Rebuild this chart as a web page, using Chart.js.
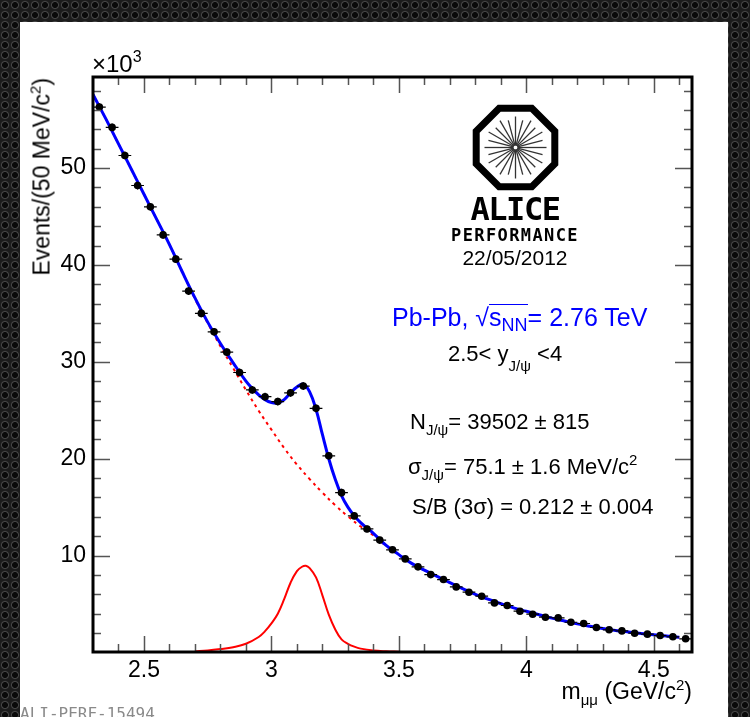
<!DOCTYPE html>
<html>
<head>
<meta charset="utf-8">
<script src="https://cdn.jsdelivr.net/npm/chart.js@4.4.1/dist/chart.umd.min.js"></script>
<style>
  html, body { margin: 0; padding: 0; }
  body {
    width: 750px; height: 717px; position: relative; overflow: hidden;
    font-family: "Liberation Sans", Arial, sans-serif;
    background-color: #1c1c1c;
    background-image: radial-gradient(circle, #0a0a0a 0 2.6px, #4a4a4a 3.4px, #2a2a2a 4.2px, transparent 4.6px);
    background-size: 10px 10px;
  }
  #panel { position: absolute; left: 20px; top: 22px; width: 708px; height: 695px; background: #fff; }
  #chart { position: absolute; left: 0; top: 0; }
  .t { position: absolute; white-space: nowrap; line-height: 1; color: #000; }
  .sup { font-size: 15px; position: relative; top: -9px; }
  .sub { font-size: 15px; position: relative; top: 6px; }
  .mono { font-family: "DejaVu Sans Mono", monospace; font-weight: bold; }
  .ov { display: inline-block; border-top: 1.5px solid #0000ff; line-height: 1; }
  #logo { position: absolute; left: 472px; top: 104px; }
</style>
</head>
<body>
<div id="panel"></div>
<canvas id="chart" width="750" height="717"></canvas>

<div class="t" style="left:92px; top:52px; font-size:24px;">×10<span class="sup" style="font-size:16px; top:-10px;">3</span></div>
<div class="t" style="left:42px; top:78px; font-size:23px; transform-origin:0 0; transform:rotate(-90deg) translate(-100%,-50%);">Events/(50 MeV/c<span class="sup">2</span>)</div>
<div class="t" style="right:58px; top:680px; font-size:23px;">m<span class="sub">μμ</span> (GeV/c<span class="sup">2</span>)</div>

<svg id="logo" width="87" height="87" viewBox="0 0 87 87">
  <polygon points="27.2,4.2 59.8,4.2 82.8,27.2 82.8,59.8 59.8,82.8 27.2,82.8 4.2,59.8 4.2,27.2" fill="none" stroke="#000" stroke-width="7"/>
  <g id="spokes" stroke="#333" stroke-width="1.3"></g>
</svg>
<div class="t mono" style="left:415px; width:200px; text-align:center; top:193px; font-size:32px; letter-spacing:-1.5px;">ALICE</div>
<div class="t mono" style="left:415px; width:200px; text-align:center; top:227px; font-size:17px; letter-spacing:1.4px;">PERFORMANCE</div>
<div class="t" style="left:415px; width:200px; text-align:center; top:247px; font-size:21px;">22/05/2012</div>

<div class="t" style="left:392px; top:304px; font-size:25px; color:#0000ff;">Pb-Pb, √<span class="ov">s<span class="sub" style="font-size:18px; top:5px;">NN</span></span>= 2.76 TeV</div>
<div class="t" style="left:448px; top:343px; font-size:22px;">2.5&lt; y<span class="sub" style="top:10px;">J/ψ</span> &lt;4</div>
<div class="t" style="left:410px; top:411px; font-size:22px;">N<span class="sub">J/ψ</span>= 39502 ± 815</div>
<div class="t" style="left:408px; top:456px; font-size:22px;">σ<span class="sub">J/ψ</span>= 75.1 ± 1.6 MeV/c<span class="sup">2</span></div>
<div class="t" style="left:412px; top:496px; font-size:22px;">S/B (3σ) = 0.212 ± 0.004</div>
<div class="t" style="left:20px; top:706px; font-size:16px; color:#8a8a8a; font-family:'DejaVu Sans Mono', monospace;">ALI-PERF-15494</div>

<script>
// dimuon invariant mass, bin centres (GeV/c^2), bins of 50 MeV
const massBins = [2.325, 2.375, 2.425, 2.475, 2.525, 2.575, 2.625, 2.675, 2.725, 2.775,
    2.825, 2.875, 2.925, 2.975, 3.025, 3.075, 3.125, 3.175, 3.225, 3.275,
    3.325, 3.375, 3.425, 3.475, 3.525, 3.575, 3.625, 3.675, 3.725, 3.775,
    3.825, 3.875, 3.925, 3.975, 4.025, 4.075, 4.125, 4.175, 4.225, 4.275,
    4.325, 4.375, 4.425, 4.475, 4.525, 4.575, 4.625];
// events per bin (x10^3)
const counts = [56.3, 54.2, 51.3, 48.2, 46.0, 43.1, 40.6, 37.3, 35.0, 33.1,
    31.0, 28.9, 27.1, 26.4, 25.9, 26.8, 27.5, 25.2, 20.3, 16.5,
    14.1, 12.75, 11.6, 10.6, 9.66, 8.84, 8.04, 7.53, 6.77, 6.22,
    5.81, 5.12, 4.85, 4.26, 3.95, 3.64, 3.57, 3.12, 2.99, 2.58,
    2.34, 2.23, 1.99, 1.89, 1.75, 1.62, 1.41];
const countErr = [0.4, 0.4, 0.4, 0.4, 0.4, 0.4, 0.4, 0.4, 0.4, 0.4,
    0.4, 0.4, 0.4, 0.4, 0.4, 0.4, 0.4, 0.4, 0.4, 0.4,
    0.35, 0.35, 0.35, 0.3, 0.3, 0.3, 0.3, 0.3, 0.3, 0.3,
    0.3, 0.3, 0.3, 0.3, 0.3, 0.3, 0.3, 0.3, 0.3, 0.3,
    0.3, 0.3, 0.3, 0.3, 0.3, 0.3, 0.3];
const binHalfWidth = 0.025;

// total fit (blue)
const totalFitX = [2.30, 2.35, 2.40, 2.45, 2.50, 2.55, 2.60, 2.65, 2.70, 2.75, 2.80, 2.85, 2.90,
    2.925, 2.95, 2.975, 3.00, 3.025, 3.05, 3.075, 3.10, 3.125, 3.15, 3.175, 3.20, 3.225, 3.25,
    3.275, 3.30, 3.325, 3.35, 3.375, 3.40, 3.45, 3.50, 3.55, 3.60, 3.65, 3.70, 3.75, 3.80,
    3.85, 3.90, 3.95, 4.00, 4.05, 4.10, 4.15, 4.20, 4.25, 4.30, 4.35, 4.40, 4.45, 4.50, 4.55, 4.60];
const totalFitY = [57.6, 55.1, 52.5, 49.9, 47.3, 44.7, 42.1, 39.3, 36.6, 34.1, 31.9, 29.9, 28.0,
    27.25, 26.6, 26.1, 25.8, 25.75, 26.1, 26.8, 27.4, 27.7, 26.9, 25.1, 22.5, 20.0, 17.9,
    16.2, 15.0, 14.1, 13.4, 12.85, 12.3, 11.05, 10.1, 9.2, 8.5, 7.85, 7.2, 6.6, 6.0,
    5.5, 5.05, 4.6, 4.25, 3.9, 3.55, 3.25, 2.95, 2.7, 2.48, 2.27, 2.12, 1.96, 1.82, 1.69, 1.57];

// background (red dashed)
const bkgFitX = [2.30, 2.35, 2.40, 2.45, 2.50, 2.55, 2.60, 2.65, 2.70, 2.75, 2.80, 2.85, 2.90,
    2.95, 3.00, 3.05, 3.10, 3.15, 3.20, 3.25, 3.30, 3.35, 3.40, 3.45, 3.50, 3.55, 3.60, 3.65,
    3.70, 3.75, 3.80, 3.85, 3.90, 3.95, 4.00, 4.05, 4.10, 4.15, 4.20, 4.25, 4.30, 4.35, 4.40,
    4.45, 4.50, 4.55, 4.60];
const bkgFitY = [57.6, 55.1, 52.5, 49.9, 47.3, 44.7, 42.1, 39.3, 36.5, 34.0, 31.6, 29.35, 27.1,
    24.95, 23.0, 21.1, 19.4, 17.9, 16.5, 15.2, 14.05, 13.0, 12.1, 11.0, 10.1, 9.2, 8.5, 7.85,
    7.2, 6.6, 6.0, 5.5, 5.05, 4.6, 4.25, 3.9, 3.55, 3.25, 2.95, 2.7, 2.48, 2.27, 2.12,
    1.96, 1.82, 1.69, 1.57];

// J/psi signal (red solid)
const signalX = [2.70, 2.75, 2.80, 2.85, 2.90, 2.95, 2.975, 3.00, 3.025, 3.05, 3.075, 3.10, 3.12, 3.135,
    3.15, 3.175, 3.20, 3.225, 3.25, 3.275, 3.30, 3.325, 3.35, 3.40, 3.45, 3.50];
const signalY = [0.12, 0.2, 0.35, 0.55, 0.9, 1.6, 2.2, 3.0, 4.0, 5.5, 7.2, 8.4, 8.85, 8.95,
    8.7, 7.75, 5.9, 3.9, 2.4, 1.35, 0.9, 0.6, 0.4, 0.2, 0.12, 0.08];

const xLabels = [2.5, 3, 3.5, 4, 4.5];
const yLabels = [10, 20, 30, 40, 50];
const xMinor = [2.4, 2.6, 2.7, 2.8, 2.9, 3.1, 3.2, 3.3, 3.4, 3.6, 3.7, 3.8, 3.9, 4.1, 4.2, 4.3, 4.4, 4.6];
const yMinor = [2, 4, 6, 8, 12, 14, 16, 18, 22, 24, 26, 28, 32, 34, 36, 38, 42, 44, 46, 48, 52, 54, 56, 58];

// logo spokes
const spokes = document.getElementById("spokes");
for (let k = 0; k < 24; k++) {
    const a = k * Math.PI / 12;
    const r2 = k % 2 === 0 ? 31 : 28;
    const l = document.createElementNS("http://www.w3.org/2000/svg", "line");
    l.setAttribute("x1", 43.5 + 2 * Math.cos(a)); l.setAttribute("y1", 43.5 + 2 * Math.sin(a));
    l.setAttribute("x2", 43.5 + r2 * Math.cos(a)); l.setAttribute("y2", 43.5 + r2 * Math.sin(a));
    spokes.appendChild(l);
}

const pts = (xs, ys) => xs.map((x, i) => ({ x, y: ys[i] }));

const errorBars = {
    id: "errorBars",
    afterDatasetsDraw(chart) {
        const { ctx, scales: { x, y } } = chart;
        ctx.save();
        ctx.strokeStyle = "#000";
        ctx.lineWidth = 1.2;
        ctx.beginPath();
        massBins.forEach((m, i) => {
            const px = x.getPixelForValue(m);
            const py = y.getPixelForValue(counts[i]);
            ctx.moveTo(x.getPixelForValue(m - binHalfWidth), py);
            ctx.lineTo(x.getPixelForValue(m + binHalfWidth), py);
            ctx.moveTo(px, y.getPixelForValue(counts[i] - countErr[i]));
            ctx.lineTo(px, y.getPixelForValue(counts[i] + countErr[i]));
        });
        ctx.stroke();
        ctx.restore();
    }
};

const rootFrame = {
    id: "rootFrame",
    afterDraw(chart) {
        const { ctx, chartArea: a, scales: { x, y } } = chart;
        ctx.save();
        ctx.strokeStyle = "#555";
        ctx.lineWidth = 1.5;
        ctx.beginPath();
        const xt = (v, len) => {
            const p = Math.round(x.getPixelForValue(v)) + 0.5;
            ctx.moveTo(p, a.bottom); ctx.lineTo(p, a.bottom - len);
            ctx.moveTo(p, a.top); ctx.lineTo(p, a.top + len);
        };
        const yt = (v, len) => {
            const p = Math.round(y.getPixelForValue(v)) + 0.5;
            ctx.moveTo(a.left, p); ctx.lineTo(a.left + len, p);
            ctx.moveTo(a.right, p); ctx.lineTo(a.right - len, p);
        };
        xLabels.forEach(v => xt(v, 16));
        xMinor.forEach(v => xt(v, 8));
        yLabels.forEach(v => yt(v, 17));
        yMinor.forEach(v => yt(v, 8));
        ctx.stroke();
        ctx.strokeStyle = "#000";
        ctx.lineWidth = 3;
        ctx.strokeRect(a.left, a.top, a.right - a.left, a.bottom - a.top);
        ctx.restore();
    }
};

new Chart(document.getElementById("chart"), {
    type: "scatter",
    data: {
        datasets: [
            {
                label: "data",
                data: pts(massBins, counts),
                backgroundColor: "#000",
                borderWidth: 0,
                pointRadius: 3.8,
                order: 0
            },
            {
                label: "total fit",
                data: pts(totalFitX, totalFitY),
                showLine: true,
                borderColor: "#0000ff",
                borderWidth: 3,
                pointRadius: 0,
                tension: 0.4,
                order: 1
            },
            {
                label: "background",
                data: pts(bkgFitX, bkgFitY),
                showLine: true,
                borderColor: "#ff0000",
                borderWidth: 2,
                borderDash: [3, 4],
                pointRadius: 0,
                tension: 0.4,
                order: 2
            },
            {
                label: "signal",
                data: pts(signalX, signalY),
                showLine: true,
                borderColor: "#ff0000",
                borderWidth: 2,
                pointRadius: 0,
                tension: 0.4,
                order: 3
            }
        ]
    },
    options: {
        responsive: false,
        animation: false,
        devicePixelRatio: 1,
        layout: { padding: { left: 0, top: 77, right: 58, bottom: 0 } },
        plugins: { legend: { display: false }, tooltip: { enabled: false } },
        scales: {
            x: {
                type: "linear",
                min: 2.3,
                max: 4.65,
                grid: { display: false, drawTicks: false },
                border: { display: false },
                afterBuildTicks: (s) => { s.ticks = xLabels.map(v => ({ value: v })); },
                afterFit: (s) => { s.height = 65; },
                ticks: {
                    color: "#000",
                    padding: 5,
                    maxRotation: 0,
                    font: { family: "Liberation Sans", size: 23 },
                    callback: (v) => String(v)
                }
            },
            y: {
                min: 0.05,
                max: 59.4,
                grid: { display: false, drawTicks: false },
                border: { display: false },
                afterBuildTicks: (s) => { s.ticks = yLabels.map(v => ({ value: v })); },
                afterFit: (s) => { s.width = 93; },
                ticks: {
                    color: "#000",
                    padding: 7,
                    font: { family: "Liberation Sans", size: 23 },
                    callback: (v) => String(v)
                }
            }
        }
    },
    plugins: [errorBars, rootFrame]
});
</script>
</body>
</html>
